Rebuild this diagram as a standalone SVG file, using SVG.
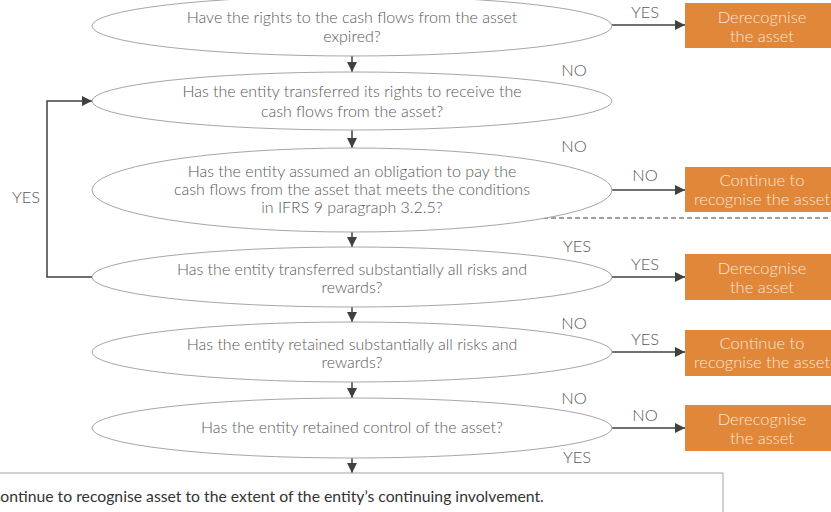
<svg xmlns="http://www.w3.org/2000/svg" width="831" height="512" viewBox="0 0 831 512">
<style>
.q{fill:#fff;stroke:#a6a6a6;stroke-width:1}
.qt{font-family:Lato,"Liberation Sans",sans-serif;font-weight:300;font-size:16px;fill:#595959;text-anchor:middle}
.b{fill:#e0873a}
.bt{font-family:Lato,"Liberation Sans",sans-serif;font-weight:300;font-size:16.5px;fill:#fbe6d4;text-anchor:middle}
.c{fill:none;stroke:#404040;stroke-width:1.5}
.l{font-family:Lato,"Liberation Sans",sans-serif;font-weight:300;font-size:16.5px;fill:#595959;text-anchor:middle}
.f{fill:#fff;stroke:#a6a6a6;stroke-width:1}
.ft{font-family:Lato,"Liberation Sans",sans-serif;font-size:15.75px;fill:#333}
</style>
<defs>
<marker id="ah" viewBox="0 0 10 10" refX="10" refY="5" markerWidth="10" markerHeight="10" markerUnits="userSpaceOnUse" orient="auto">
<path d="M0,0 L10,5 L0,10 z" fill="#404040"/>
</marker>
</defs>
<rect width="831" height="512" fill="#fff"/>

<g id="connectors">
<line class="c" x1="352" y1="56" x2="352" y2="72" marker-end="url(#ah)"/>
<line class="c" x1="352" y1="130" x2="352" y2="148" marker-end="url(#ah)"/>
<line class="c" x1="352" y1="232" x2="352" y2="247" marker-end="url(#ah)"/>
<line class="c" x1="352" y1="307" x2="352" y2="322" marker-end="url(#ah)"/>
<line class="c" x1="352" y1="382" x2="352" y2="398" marker-end="url(#ah)"/>
<line class="c" x1="352" y1="458" x2="352" y2="473" marker-end="url(#ah)"/>
<line class="c" x1="612" y1="25" x2="685" y2="25" marker-end="url(#ah)"/>
<line class="c" x1="612" y1="190" x2="685" y2="190" marker-end="url(#ah)"/>
<line class="c" x1="612" y1="277" x2="685" y2="277" marker-end="url(#ah)"/>
<line class="c" x1="612" y1="352" x2="685" y2="352" marker-end="url(#ah)"/>
<line class="c" x1="612" y1="428" x2="685" y2="428" marker-end="url(#ah)"/>
<polyline class="c" points="92,277 47,277 47,101 92,101" marker-end="url(#ah)"/>
<line x1="535" y1="218" x2="831" y2="218" stroke="#404040" stroke-width="1.2" stroke-dasharray="5,3"/>
<text class="l" x="645" y="18">YES</text>
<text class="l" x="574" y="76">NO</text>
<text class="l" x="574" y="152">NO</text>
<text class="l" x="645" y="181">NO</text>
<text class="l" x="577" y="252">YES</text>
<text class="l" x="645" y="270">YES</text>
<text class="l" x="574" y="329">NO</text>
<text class="l" x="645" y="345">YES</text>
<text class="l" x="574" y="404">NO</text>
<text class="l" x="645" y="421">NO</text>
<text class="l" x="577" y="463">YES</text>
<text class="l" x="26" y="203">YES</text>
</g>

<g id="q1"><ellipse class="q" cx="352" cy="26" rx="260" ry="30"/>
<text class="qt" x="352" y="23">Have the rights to the cash flows from the asset</text>
<text class="qt" x="352" y="42">expired?</text></g>

<g id="q2"><ellipse class="q" cx="352" cy="101" rx="260" ry="29"/>
<text class="qt" x="352" y="97">Has the entity transferred its rights to receive the</text>
<text class="qt" x="352" y="117">cash flows from the asset?</text></g>

<g id="q3"><ellipse class="q" cx="352" cy="190" rx="260" ry="42"/>
<text class="qt" x="352" y="177">Has the entity assumed an obligation to pay the</text>
<text class="qt" x="352" y="195">cash flows from the asset that meets the conditions</text>
<text class="qt" x="352" y="213">in IFRS 9 paragraph 3.2.5?</text></g>

<g id="q4"><ellipse class="q" cx="352" cy="277" rx="260" ry="30"/>
<text class="qt" x="352" y="275">Has the entity transferred substantially all risks and</text>
<text class="qt" x="352" y="293">rewards?</text></g>

<g id="q5"><ellipse class="q" cx="352" cy="352" rx="260" ry="30"/>
<text class="qt" x="352" y="350">Has the entity retained substantially all risks and</text>
<text class="qt" x="352" y="368">rewards?</text></g>

<g id="q6"><ellipse class="q" cx="352" cy="428" rx="260" ry="30"/>
<text class="qt" x="352" y="433">Has the entity retained control of the asset?</text></g>

<g id="r1"><rect class="b" x="685" y="3" width="150" height="45"/>
<text class="bt" x="762" y="23">Derecognise</text>
<text class="bt" x="762" y="42">the asset</text></g>

<g id="r2"><rect class="b" x="685" y="167" width="150" height="45"/>
<text class="bt" x="762" y="186">Continue to</text>
<text class="bt" x="762" y="205">recognise the asset</text></g>

<g id="r3"><rect class="b" x="685" y="254" width="150" height="46"/>
<text class="bt" x="762" y="274">Derecognise</text>
<text class="bt" x="762" y="293">the asset</text></g>

<g id="r4"><rect class="b" x="685" y="330" width="150" height="46"/>
<text class="bt" x="762" y="349">Continue to</text>
<text class="bt" x="762" y="368">recognise the asset</text></g>

<g id="r5"><rect class="b" x="685" y="405" width="150" height="46"/>
<text class="bt" x="762" y="425">Derecognise</text>
<text class="bt" x="762" y="444">the asset</text></g>

<g id="final"><rect class="f" x="-10" y="473" width="733" height="50"/>
<text class="ft" x="-10" y="502">Continue to recognise asset to the extent of the entity’s continuing involvement.</text></g>
</svg>
